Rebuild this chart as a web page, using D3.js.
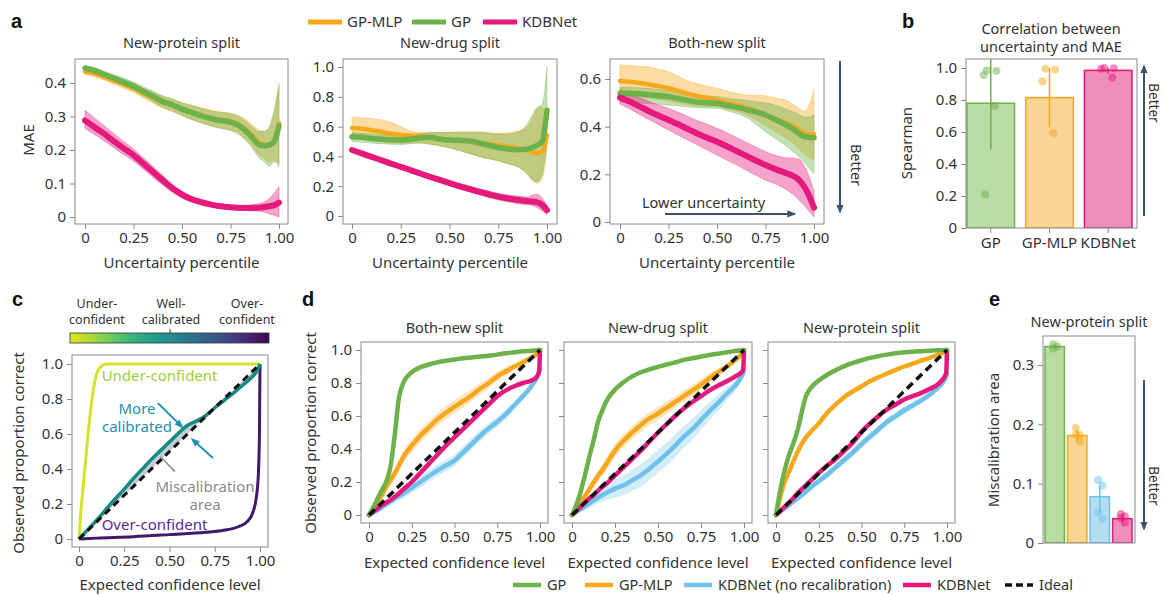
<!DOCTYPE html>
<html>
<head>
<meta charset="utf-8">
<script src="https://cdn.jsdelivr.net/npm/d3@7"></script>
<style>
  body { margin: 0; background: #fff; }
</style>
</head>
<body>
<script>

// ---------- data ----------

// panel a: MAE vs uncertainty percentile
const pctA = [0,0.05,0.1,0.15,0.2,0.25,0.3,0.35,0.4,0.45,0.5,0.55,0.6,0.65,0.7,0.75,0.8,0.85,0.9,0.925,0.95,0.975,1];

const protMLP   = [0.434,0.428,0.418,0.407,0.396,0.385,0.37,0.356,0.342,0.333,0.322,0.313,0.304,0.296,0.29,0.285,0.274,0.252,0.222,0.216,0.216,0.228,0.28];
const protMLPlo = [0.426,0.419,0.408,0.396,0.384,0.372,0.356,0.34,0.325,0.315,0.303,0.292,0.282,0.273,0.266,0.26,0.247,0.222,0.185,0.175,0.165,0.17,0.16];
const protMLPhi = [0.442,0.437,0.428,0.418,0.408,0.398,0.384,0.372,0.359,0.351,0.341,0.334,0.326,0.319,0.314,0.31,0.301,0.282,0.259,0.257,0.265,0.31,0.4];
const protGP    = [0.444,0.437,0.425,0.414,0.402,0.39,0.375,0.36,0.345,0.335,0.322,0.312,0.302,0.294,0.288,0.283,0.27,0.245,0.215,0.213,0.215,0.225,0.272];
const protGPlo  = [0.436,0.428,0.415,0.403,0.39,0.377,0.361,0.344,0.328,0.317,0.303,0.291,0.28,0.271,0.264,0.258,0.243,0.215,0.175,0.165,0.152,0.165,0.15];
const protGPhi  = [0.452,0.446,0.435,0.425,0.414,0.403,0.389,0.376,0.362,0.353,0.341,0.333,0.324,0.317,0.312,0.308,0.297,0.275,0.255,0.255,0.27,0.32,0.39];
const protKDB   = [0.288,0.268,0.248,0.226,0.205,0.185,0.16,0.135,0.11,0.086,0.067,0.053,0.044,0.037,0.032,0.029,0.027,0.027,0.028,0.03,0.032,0.035,0.043];
const protKDBlo = [0.265,0.246,0.227,0.206,0.186,0.167,0.143,0.119,0.096,0.074,0.057,0.045,0.037,0.031,0.026,0.023,0.02,0.019,0.017,0.014,0.01,0.005,0.0];
const protKDBhi = [0.318,0.295,0.272,0.248,0.225,0.203,0.177,0.151,0.124,0.098,0.077,0.062,0.052,0.044,0.039,0.036,0.035,0.036,0.04,0.045,0.055,0.07,0.09];

const drugMLP   = [0.59,0.585,0.575,0.565,0.552,0.543,0.54,0.538,0.53,0.52,0.51,0.505,0.5,0.49,0.483,0.476,0.465,0.455,0.44,0.43,0.42,0.43,0.54];
const drugMLPlo = [0.525,0.52,0.51,0.5,0.49,0.488,0.49,0.49,0.48,0.47,0.46,0.44,0.42,0.4,0.385,0.37,0.35,0.33,0.28,0.24,0.22,0.25,0.45];
const drugMLPhi = [0.665,0.66,0.655,0.645,0.63,0.6,0.57,0.56,0.56,0.56,0.562,0.565,0.565,0.565,0.56,0.555,0.56,0.57,0.6,0.65,0.72,0.73,0.6];
const drugGP    = [0.532,0.528,0.52,0.515,0.512,0.51,0.515,0.525,0.528,0.515,0.51,0.508,0.505,0.49,0.475,0.46,0.45,0.445,0.45,0.46,0.475,0.5,0.71];
const drugGPlo  = [0.5,0.495,0.49,0.485,0.482,0.48,0.485,0.49,0.485,0.47,0.455,0.44,0.42,0.4,0.385,0.37,0.35,0.33,0.28,0.24,0.23,0.28,0.5];
const drugGPhi  = [0.56,0.555,0.55,0.545,0.54,0.535,0.54,0.55,0.56,0.56,0.56,0.56,0.56,0.56,0.555,0.55,0.55,0.56,0.62,0.68,0.73,0.75,1.0];
const drugKDB   = [0.443,0.42,0.397,0.375,0.352,0.33,0.308,0.285,0.263,0.242,0.22,0.2,0.182,0.163,0.146,0.13,0.118,0.108,0.1,0.098,0.092,0.075,0.04];
const drugKDBlo = [0.435,0.412,0.388,0.365,0.341,0.318,0.295,0.271,0.248,0.226,0.203,0.182,0.163,0.143,0.125,0.108,0.095,0.083,0.075,0.07,0.055,0.035,0.01];
const drugKDBhi = [0.451,0.428,0.406,0.385,0.363,0.342,0.321,0.299,0.278,0.258,0.237,0.218,0.201,0.183,0.167,0.152,0.141,0.133,0.128,0.14,0.145,0.12,0.07];

const bothMLP   = [0.592,0.588,0.583,0.577,0.57,0.561,0.55,0.538,0.528,0.52,0.512,0.502,0.492,0.48,0.466,0.449,0.433,0.418,0.4,0.385,0.372,0.368,0.368];
const bothMLPlo = [0.53,0.528,0.524,0.52,0.514,0.508,0.5,0.492,0.487,0.485,0.483,0.475,0.465,0.452,0.43,0.405,0.38,0.355,0.325,0.305,0.285,0.27,0.26];
const bothMLPhi = [0.659,0.657,0.654,0.65,0.641,0.631,0.612,0.592,0.58,0.57,0.561,0.55,0.54,0.533,0.532,0.53,0.52,0.512,0.49,0.475,0.463,0.49,0.554];
const bothGP    = [0.54,0.54,0.538,0.534,0.53,0.526,0.518,0.51,0.503,0.5,0.498,0.49,0.482,0.472,0.462,0.449,0.43,0.41,0.386,0.37,0.358,0.355,0.354];
const bothGPlo  = [0.505,0.503,0.5,0.497,0.494,0.49,0.487,0.483,0.48,0.478,0.477,0.468,0.455,0.44,0.41,0.379,0.35,0.323,0.29,0.27,0.25,0.225,0.204];
const bothGPhi  = [0.565,0.565,0.563,0.56,0.556,0.552,0.545,0.537,0.53,0.528,0.527,0.52,0.515,0.51,0.505,0.5,0.49,0.475,0.46,0.45,0.44,0.44,0.45];
const bothKDB   = [0.522,0.505,0.485,0.465,0.446,0.428,0.41,0.39,0.37,0.353,0.337,0.318,0.298,0.278,0.258,0.239,0.222,0.207,0.19,0.175,0.148,0.11,0.06];
const bothKDBlo = [0.495,0.475,0.452,0.43,0.408,0.386,0.365,0.344,0.323,0.302,0.281,0.26,0.24,0.218,0.197,0.176,0.16,0.14,0.11,0.09,0.07,0.045,0.022];
const bothKDBhi = [0.555,0.54,0.522,0.506,0.49,0.477,0.46,0.443,0.425,0.41,0.393,0.375,0.355,0.335,0.315,0.295,0.28,0.27,0.268,0.262,0.235,0.19,0.128];

// panel b: Spearman correlation
const bCats  = ["GP", "GP-MLP", "KDBNet"];
const bMean  = [0.78, 0.815, 0.985];
const bLow   = [0.49, 0.63, 0.965];
const bHigh  = [1.07, 1.0, 1.0];
const bRuns  = [[0.985, 0.983, 0.956, 0.762, 0.21], [0.995, 0.99, 0.915, 0.594], [1.0, 0.998, 0.995, 0.94]];

// panel c: schematic calibration curves
const underX = [0,0.01,0.02,0.035,0.05,0.065,0.08,0.1,0.12,0.15,1];
const underY = [0,0.15,0.27,0.43,0.6,0.74,0.86,0.95,0.985,1,1];
const overX  = [0,0.1,0.3,0.5,0.7,0.8,0.88,0.93,0.96,0.98,0.99,0.997,1];
const overY  = [0,0.005,0.013,0.025,0.038,0.05,0.07,0.1,0.15,0.24,0.35,0.6,1];
const wellX  = [0,0.05,0.1,0.15,0.2,0.25,0.3,0.35,0.4,0.45,0.5,0.55,0.6,0.65,0.7,0.75,0.8,0.85,0.9,0.95,0.98,1];
const wellY  = [0,0.055,0.11,0.17,0.23,0.285,0.345,0.4,0.455,0.505,0.555,0.605,0.65,0.675,0.705,0.75,0.79,0.83,0.875,0.92,0.955,1];

// panel d: calibration curves
const confX = [0,0.025,0.05,0.075,0.1,0.125,0.15,0.175,0.2,0.25,0.3,0.35,0.4,0.45,0.5,0.55,0.6,0.65,0.7,0.75,0.8,0.85,0.9,0.95,0.98,0.995,1];

const bothDGP    = [0,0.045,0.1,0.15,0.2,0.29,0.48,0.71,0.8,0.865,0.895,0.912,0.925,0.935,0.943,0.95,0.955,0.96,0.965,0.972,0.98,0.986,0.992,0.996,0.999,1,1];
const bothDMLP   = [0,0.04,0.08,0.12,0.17,0.21,0.25,0.3,0.35,0.42,0.48,0.53,0.58,0.62,0.655,0.69,0.725,0.765,0.8,0.84,0.87,0.9,0.925,0.955,0.975,0.99,1];
const bothDMLPsd = [0,0.01,0.015,0.02,0.025,0.03,0.035,0.035,0.035,0.04,0.04,0.04,0.04,0.04,0.04,0.04,0.035,0.035,0.03,0.03,0.025,0.02,0.02,0.015,0.01,0.005,0];
const bothDKDB   = [0,0.02,0.04,0.06,0.075,0.09,0.11,0.13,0.155,0.2,0.255,0.31,0.365,0.42,0.47,0.52,0.57,0.62,0.67,0.72,0.755,0.78,0.8,0.815,0.835,0.87,1];
const bothDRaw   = [0,0.015,0.03,0.047,0.065,0.082,0.1,0.115,0.13,0.165,0.2,0.235,0.27,0.3,0.33,0.38,0.43,0.48,0.525,0.565,0.61,0.665,0.72,0.78,0.83,0.87,0.89];
const bothDRawsd = [0,0.005,0.01,0.015,0.02,0.02,0.025,0.025,0.03,0.03,0.035,0.035,0.035,0.035,0.035,0.035,0.035,0.035,0.03,0.03,0.03,0.025,0.025,0.02,0.015,0.01,0];

const drugDGP    = [0,0.06,0.14,0.24,0.35,0.45,0.56,0.63,0.69,0.76,0.805,0.84,0.865,0.883,0.898,0.912,0.925,0.94,0.95,0.96,0.97,0.978,0.986,0.994,0.998,1,1];
const drugDMLP   = [0,0.04,0.08,0.115,0.155,0.195,0.235,0.27,0.31,0.39,0.45,0.5,0.545,0.585,0.615,0.65,0.685,0.72,0.755,0.79,0.83,0.865,0.9,0.94,0.97,0.99,1];
const drugDMLPsd = [0,0.01,0.015,0.02,0.025,0.03,0.035,0.035,0.04,0.04,0.04,0.04,0.04,0.04,0.04,0.04,0.035,0.035,0.035,0.03,0.03,0.025,0.02,0.015,0.01,0.005,0];
const drugDKDB   = [0,0.025,0.05,0.075,0.1,0.12,0.145,0.17,0.19,0.24,0.29,0.34,0.39,0.445,0.5,0.55,0.6,0.645,0.685,0.72,0.755,0.785,0.81,0.84,0.86,0.88,1];
const drugDRaw   = [0,0.018,0.035,0.052,0.07,0.087,0.104,0.12,0.135,0.16,0.18,0.21,0.24,0.28,0.325,0.37,0.42,0.475,0.52,0.575,0.63,0.68,0.735,0.785,0.83,0.86,0.88];
const drugDRawsd = [0,0.01,0.015,0.02,0.025,0.03,0.035,0.04,0.045,0.055,0.06,0.065,0.07,0.07,0.07,0.07,0.07,0.065,0.065,0.06,0.055,0.05,0.04,0.03,0.02,0.01,0];

const protDGP    = [0,0.15,0.27,0.36,0.43,0.51,0.62,0.72,0.765,0.815,0.85,0.878,0.902,0.922,0.938,0.952,0.963,0.972,0.98,0.986,0.99,0.993,0.996,0.998,0.999,1,1];
const protDMLP   = [0,0.11,0.2,0.26,0.32,0.38,0.43,0.47,0.5,0.555,0.62,0.67,0.715,0.75,0.78,0.81,0.835,0.858,0.88,0.9,0.918,0.935,0.953,0.972,0.986,0.995,1];
const protDMLPsd = [0,0.005,0.01,0.01,0.012,0.012,0.012,0.012,0.012,0.012,0.012,0.012,0.01,0.01,0.01,0.01,0.01,0.01,0.01,0.008,0.008,0.006,0.005,0.004,0.003,0.002,0];
const protDKDB   = [0,0.025,0.05,0.075,0.1,0.13,0.155,0.18,0.205,0.255,0.3,0.34,0.39,0.44,0.505,0.555,0.6,0.64,0.67,0.7,0.72,0.74,0.765,0.795,0.83,0.86,1];
const protDRaw   = [0,0.02,0.04,0.06,0.08,0.1,0.12,0.14,0.165,0.205,0.245,0.29,0.335,0.38,0.43,0.475,0.52,0.565,0.6,0.635,0.665,0.695,0.73,0.775,0.81,0.84,0.86];
const protDRawsd = [0,0.005,0.008,0.01,0.012,0.015,0.015,0.018,0.02,0.02,0.022,0.022,0.025,0.025,0.025,0.025,0.025,0.025,0.025,0.025,0.022,0.02,0.02,0.015,0.012,0.008,0];

// panel e: miscalibration area
const eCats = ["GP", "GP-MLP", "KDBNet (no recalibration)", "KDBNet"];
const eMean = [0.331, 0.181, 0.078, 0.041];
const eLow  = [0.328, 0.171, 0.05, 0.035];
const eHigh = [0.334, 0.191, 0.097, 0.047];
const eRuns = [[0.335, 0.331, 0.328], [0.194, 0.182, 0.182, 0.171], [0.106, 0.097, 0.052, 0.041], [0.049, 0.045, 0.042, 0.034]];

const aTicksX = [0, 0.25, 0.5, 0.75, 1];
const topLegend = ["GP-MLP", "GP", "KDBNet"];
const bottomLegend = ["GP", "GP-MLP", "KDBNet (no recalibration)", "KDBNet", "Ideal"];

// ---------- style ----------
const col = { "GP": "#6cb14a", "GP-MLP": "#f5a81c", "KDBNet": "#e5197b", "KDBNet (no recalibration)": "#6ec1e8" };
const fillCol = { "GP": "#b8dca4", "GP-MLP": "#f8d594", "KDBNet": "#ef8dbb", "KDBNet (no recalibration)": "#b3def2" };
const ink = "#333", frameCol = "#8a8a8a", arrowCol = "#3e536d";

const svg = d3.select("body").append("svg")
    .attr("width", 1165).attr("height", 595)
    .style("font-family", "'Noto Sans', sans-serif");
svg.append("rect").attr("width", 1165).attr("height", 595).attr("fill", "#fff");

const defs = svg.append("defs");
function marker(id, c) {
  defs.append("marker").attr("id", id).attr("viewBox", "0 0 10 10")
      .attr("refX", 8).attr("refY", 5)
      .attr("markerWidth", 9).attr("markerHeight", 9)
      .attr("markerUnits", "userSpaceOnUse").attr("orient", "auto")
    .append("path").attr("d", "M0,1 L10,5 L0,9 z").attr("fill", c);
}
marker("headDark", arrowCol);
marker("headTeal", "#1f8fae");

let clipN = 0;
function clipFor(fr) {
  const id = "clip" + (clipN++);
  defs.append("clipPath").attr("id", id).append("rect")
      .attr("x", fr[0]).attr("y", fr[1]).attr("width", fr[2] - fr[0]).attr("height", fr[3] - fr[1]);
  return "url(#" + id + ")";
}

function txt(x, y, s, o = {}) {
  const t = svg.append("text").attr("x", x).attr("y", y).text(s)
      .attr("fill", o.fill || ink).attr("font-size", o.size || 14.5)
      .attr("text-anchor", o.anchor || "start");
  if (o.weight) t.attr("font-weight", o.weight);
  if (o.family) t.attr("font-family", o.family);
  if (o.rotate) t.attr("transform", `rotate(${o.rotate},${x},${y})`);
  return t;
}

function panelLabel(x, y, s) {
  txt(x, y, s, { size: 20, weight: "bold", family: "'Liberation Sans', Arial, sans-serif", fill: "#111" });
}

function tickFmt(dec) { return d => d === 0 ? "0" : d.toFixed(dec); }

function styleAxis(a) {
  a.attr("font-family", null).attr("font-size", null);
  a.select(".domain").remove();
  a.selectAll("line").attr("stroke", frameCol);
  a.selectAll("text").attr("fill", ink).attr("font-size", 15);
}

function frame(fr, x, y, xTicks, yTicks, xDec, yDec, yLabels = true) {
  svg.append("rect").attr("x", fr[0]).attr("y", fr[1])
      .attr("width", fr[2] - fr[0]).attr("height", fr[3] - fr[1])
      .attr("fill", "none").attr("stroke", frameCol).attr("stroke-width", 1);
  if (x) {
    const xa = svg.append("g").attr("transform", `translate(0,${fr[3]})`)
        .call(d3.axisBottom(x).tickValues(xTicks).tickSize(5).tickPadding(3).tickFormat(tickFmt(xDec)));
    styleAxis(xa);
  }
  const ya = svg.append("g").attr("transform", `translate(${fr[0]},0)`)
      .call(d3.axisLeft(y).tickValues(yTicks).tickSize(5).tickPadding(4)
        .tickFormat(yLabels ? tickFmt(yDec) : () => ""));
  styleAxis(ya);
}

// ---------- panel a ----------
const aPanels = [
  { title: "New-protein split", fr: [75, 59, 288, 224], xr: [85, 279], yd: [0, 0.4], yr: [217, 83], yt: [0, 0.1, 0.2, 0.3, 0.4],
    s: { "GP-MLP": [protMLP, protMLPlo, protMLPhi], "GP": [protGP, protGPlo, protGPhi], "KDBNet": [protKDB, protKDBlo, protKDBhi] } },
  { title: "New-drug split", fr: [343, 59, 557, 224], xr: [352, 547], yd: [0, 1], yr: [216, 67], yt: [0, 0.2, 0.4, 0.6, 0.8, 1],
    s: { "GP-MLP": [drugMLP, drugMLPlo, drugMLPhi], "GP": [drugGP, drugGPlo, drugGPhi], "KDBNet": [drugKDB, drugKDBlo, drugKDBhi] } },
  { title: "Both-new split", fr: [610, 59, 824, 224], xr: [620, 814], yd: [0, 0.6], yr: [222, 79], yt: [0, 0.2, 0.4, 0.6],
    s: { "GP-MLP": [bothMLP, bothMLPlo, bothMLPhi], "GP": [bothGP, bothGPlo, bothGPhi], "KDBNet": [bothKDB, bothKDBlo, bothKDBhi] } }
];
const aOrder = ["GP-MLP", "GP", "KDBNet"];
const aWidth = { "GP-MLP": 4.5, "GP": 5.5, "KDBNet": 6 };

aPanels.forEach((p, pi) => {
  const x = d3.scaleLinear().domain([0, 1]).range(p.xr);
  const y = d3.scaleLinear().domain(p.yd).range(p.yr);
  const g = svg.append("g").attr("clip-path", clipFor(p.fr));
  const area = d3.area().x(d => x(d[0])).y0(d => y(d[1])).y1(d => y(d[2])).curve(d3.curveMonotoneX);
  const line = d3.line().x(d => x(d[0])).y(d => y(d[1])).curve(d3.curveMonotoneX);
  aOrder.forEach(m => {
    const [mean, lo, hi] = p.s[m];
    g.append("path").datum(pctA.map((v, i) => [v, lo[i], hi[i]]))
        .attr("d", area).attr("fill", col[m]).attr("fill-opacity", 0.4)
        .attr("stroke", col[m]).attr("stroke-opacity", 0.45).attr("stroke-width", 0.8);
  });
  aOrder.forEach(m => {
    const mean = p.s[m][0];
    g.append("path").datum(pctA.map((v, i) => [v, mean[i]]))
        .attr("d", line).attr("fill", "none").attr("stroke", col[m])
        .attr("stroke-width", aWidth[m]).attr("stroke-linejoin", "round").attr("stroke-linecap", "round");
  });
  frame(p.fr, x, y, aTicksX, p.yt, 2, 1);
  txt((p.fr[0] + p.fr[2]) / 2, 48, p.title, { anchor: "middle" });
  txt((p.fr[0] + p.fr[2]) / 2, 268, "Uncertainty percentile", { anchor: "middle", size: 15 });
  if (pi === 0) txt(34, 140, "MAE", { anchor: "middle", rotate: -90, size: 15 });
  if (pi === 2) {
    txt(x(0.113), y(0.058), "Lower uncertainty", { size: 14.5 });
    svg.append("line").attr("x1", x(0.232)).attr("x2", x(0.9)).attr("y1", y(0.034)).attr("y2", y(0.034))
        .attr("stroke", arrowCol).attr("stroke-width", 2).attr("marker-end", "url(#headDark)");
  }
});

// "Better" arrow for a
svg.append("line").attr("x1", 840).attr("x2", 840).attr("y1", 61).attr("y2", 212)
    .attr("stroke", arrowCol).attr("stroke-width", 2).attr("marker-end", "url(#headDark)");
txt(851, 165, "Better", { anchor: "middle", rotate: 90 });

// top legend
{
  const legX = [308, 412, 483];
  topLegend.forEach((m, i) => {
    svg.append("line").attr("x1", legX[i]).attr("x2", legX[i] + 34).attr("y1", 22).attr("y2", 22)
        .attr("stroke", col[m]).attr("stroke-width", 5);
    txt(legX[i] + 39, 27, m, { size: 15 });
  });
}
panelLabel(11, 28, "a");

// ---------- panel b ----------
{
  const fr = [966, 59, 1137, 228];
  const x = d3.scaleBand().domain(bCats).range([967, 1132]).paddingInner(0.19);
  const y = d3.scaleLinear().domain([0, 1]).range([228, 68]);
  const g = svg.append("g").attr("clip-path", clipFor(fr));
  bCats.forEach((c, i) => {
    g.append("rect").attr("x", x(c)).attr("y", y(bMean[i])).attr("width", x.bandwidth())
        .attr("height", y(0) - y(bMean[i])).attr("fill", fillCol[c]).attr("stroke", col[c]).attr("stroke-width", 1.5);
  });
  bCats.forEach((c, i) => {
    const cx = x(c) + x.bandwidth() / 2;
    g.append("line").attr("x1", cx).attr("x2", cx).attr("y1", y(bLow[i])).attr("y2", y(bHigh[i]))
        .attr("stroke", col[c]).attr("stroke-width", 1.5);
    g.selectAll(null).data(bRuns[i]).enter().append("circle")
        .attr("cx", (d, j) => cx + (j % 2 ? 4 : -4) * (1 + (j % 3) * 0.4))
        .attr("cy", d => y(d)).attr("r", 4)
        .attr("fill", col[c]).attr("fill-opacity", 0.5);
  });
  frame(fr, null, y, null, [0, 0.2, 0.4, 0.6, 0.8, 1], 0, 1);
  const xa = svg.append("g").attr("transform", `translate(0,${fr[3]})`)
      .call(d3.axisBottom(x).tickSize(5).tickPadding(4));
  styleAxis(xa);
  txt(1051, 34, "Correlation between", { anchor: "middle" });
  txt(1051, 52, "uncertainty and MAE", { anchor: "middle" });
  txt(912, 143, "Spearman", { anchor: "middle", rotate: -90, size: 15 });
  svg.append("line").attr("x1", 1144).attr("x2", 1144).attr("y1", 216).attr("y2", 66)
      .attr("stroke", arrowCol).attr("stroke-width", 2).attr("marker-end", "url(#headDark)");
  txt(1149, 103, "Better", { anchor: "middle", rotate: 90, size: 13.5 });
  panelLabel(902, 28, "b");
}

// ---------- panel c ----------
{
  const fr = [72, 355, 268, 547];
  const x = d3.scaleLinear().domain([0, 1]).range([79, 260]);
  const y = d3.scaleLinear().domain([0, 1]).range([539, 364]);
  const line = d3.line().x(d => x(d[0])).y(d => y(d[1])).curve(d3.curveMonotoneX);

  // colour bar
  const grad = defs.append("linearGradient").attr("id", "calGrad");
  d3.range(0, 1.001, 0.1).forEach(t => grad.append("stop")
      .attr("offset", t).attr("stop-color", d3.interpolateViridis(0.97 - t * 0.97)));
  svg.append("rect").attr("x", 70).attr("y", 333).attr("width", 199).attr("height", 10)
      .attr("fill", "url(#calGrad)").attr("stroke", "#333").attr("stroke-width", 0.8);
  svg.append("line").attr("x1", 170).attr("x2", 170).attr("y1", 329).attr("y2", 333).attr("stroke", "#333");
  [["Under-", "confident", 97], ["Well-", "calibrated", 171], ["Over-", "confident", 247]].forEach(l => {
    txt(l[2], 308, l[0], { anchor: "middle", size: 12.5 });
    txt(l[2], 324, l[1], { anchor: "middle", size: 12.5 });
  });

  const g = svg.append("g").attr("clip-path", clipFor(fr));
  const well = wellX.map((v, i) => [v, wellY[i]]);
  g.append("path").datum(well)
      .attr("d", d3.area().x(d => x(d[0])).y0(d => y(d[0])).y1(d => y(d[1])).curve(d3.curveMonotoneX))
      .attr("fill", "#c5ced6");
  g.append("path").datum(underX.map((v, i) => [v, underY[i]])).attr("d", line)
      .attr("fill", "none").attr("stroke", "#d6e227").attr("stroke-width", 3);
  g.append("path").datum(overX.map((v, i) => [v, overY[i]])).attr("d", line)
      .attr("fill", "none").attr("stroke", "#40196a").attr("stroke-width", 3);
  g.append("path").datum(well).attr("d", line)
      .attr("fill", "none").attr("stroke", "#168a83").attr("stroke-width", 3.5);
  g.append("line").attr("x1", x(0)).attr("y1", y(0)).attr("x2", x(1)).attr("y2", y(1))
      .attr("stroke", "#111").attr("stroke-width", 3).attr("stroke-dasharray", "7,5");

  frame(fr, x, y, aTicksX, [0, 0.2, 0.4, 0.6, 0.8, 1], 2, 1);

  txt(x(0.125), y(0.905), "Under-confident", { fill: "#9fcd3b", size: 15 });
  txt(x(0.125), y(0.05), "Over-confident", { fill: "#5b2c8f", size: 15 });
  txt(137, 414, "More", { anchor: "middle", fill: "#1f8fae", size: 15 });
  txt(137, 432, "calibrated", { anchor: "middle", fill: "#1f8fae", size: 15 });
  svg.append("line").attr("x1", x(0.436)).attr("y1", y(0.777)).attr("x2", x(0.57)).attr("y2", y(0.64))
      .attr("stroke", "#1f8fae").attr("stroke-width", 1.8).attr("marker-end", "url(#headTeal)");
  svg.append("line").attr("x1", x(0.74)).attr("y1", y(0.463)).attr("x2", x(0.625)).attr("y2", y(0.57))
      .attr("stroke", "#1f8fae").attr("stroke-width", 1.8).attr("marker-end", "url(#headTeal)");
  svg.append("line").attr("x1", x(0.45)).attr("y1", y(0.47)).attr("x2", x(0.53)).attr("y2", y(0.385))
      .attr("stroke", "#8a8a8a").attr("stroke-width", 1.5);
  txt(205, 492, "Miscalibration", { anchor: "middle", fill: "#8a8a8a", size: 15 });
  txt(205, 510, "area", { anchor: "middle", fill: "#8a8a8a", size: 15 });

  txt(170, 590, "Expected confidence level", { anchor: "middle", size: 15 });
  txt(24, 453, "Observed proportion correct", { anchor: "middle", rotate: -90, size: 15 });
  panelLabel(12, 306, "c");
}

// ---------- panel d ----------
const dPanels = [
  { title: "Both-new split", fr: [361, 342, 548, 523], gp: bothDGP, mlp: bothDMLP, mlpSd: bothDMLPsd, kdb: bothDKDB, raw: bothDRaw, rawSd: bothDRawsd },
  { title: "New-drug split", fr: [564, 342, 752, 523], gp: drugDGP, mlp: drugDMLP, mlpSd: drugDMLPsd, kdb: drugDKDB, raw: drugDRaw, rawSd: drugDRawsd },
  { title: "New-protein split", fr: [768, 342, 955, 523], gp: protDGP, mlp: protDMLP, mlpSd: protDMLPsd, kdb: protDKDB, raw: protDRaw, rawSd: protDRawsd }
];
dPanels.forEach((p, pi) => {
  const x = d3.scaleLinear().domain([0, 1]).range([p.fr[0] + 8, p.fr[2] - 8]);
  const y = d3.scaleLinear().domain([0, 1]).range([515, 350]);
  const g = svg.append("g").attr("clip-path", clipFor(p.fr));
  const area = d3.area().x(d => x(d[0])).y0(d => y(d[1] - d[2])).y1(d => y(d[1] + d[2])).curve(d3.curveMonotoneX);
  const line = d3.line().x(d => x(d[0])).y(d => y(d[1])).curve(d3.curveMonotoneX);
  const band = (v, sd, c) => g.append("path").datum(confX.map((cx, i) => [cx, v[i], sd[i]]))
      .attr("d", area).attr("fill", c).attr("fill-opacity", 0.3);
  const curve = (v, c) => g.append("path").datum(confX.map((cx, i) => [cx, v[i]]))
      .attr("d", line).attr("fill", "none").attr("stroke", c).attr("stroke-width", 4.5)
      .attr("stroke-linejoin", "round").attr("stroke-linecap", "round");
  band(p.raw, p.rawSd, col["KDBNet (no recalibration)"]);
  band(p.mlp, p.mlpSd, col["GP-MLP"]);
  curve(p.raw, col["KDBNet (no recalibration)"]);
  curve(p.mlp, col["GP-MLP"]);
  curve(p.kdb, col["KDBNet"]);
  curve(p.gp, col["GP"]);
  g.append("line").attr("x1", x(0)).attr("y1", y(0)).attr("x2", x(1)).attr("y2", y(1))
      .attr("stroke", "#111").attr("stroke-width", 3.5).attr("stroke-dasharray", "8,5");
  frame(p.fr, x, y, aTicksX, [0, 0.2, 0.4, 0.6, 0.8, 1], 2, 1, pi === 0);
  txt((p.fr[0] + p.fr[2]) / 2, 333, p.title, { anchor: "middle" });
  txt((p.fr[0] + p.fr[2]) / 2, 568, "Expected confidence level", { anchor: "middle", size: 15 });
});
txt(316, 433, "Observed proportion correct", { anchor: "middle", rotate: -90, size: 15 });
panelLabel(302, 306, "d");

// bottom legend
{
  const legX = [513, 585, 684, 903, 1005];
  bottomLegend.forEach((m, i) => {
    const ln = svg.append("line").attr("x1", legX[i]).attr("x2", legX[i] + 28).attr("y1", 585).attr("y2", 585)
        .attr("stroke-width", 4.5);
    if (m === "Ideal") ln.attr("stroke", "#111").attr("stroke-dasharray", "7,4").attr("stroke-width", 3.5);
    else ln.attr("stroke", col[m]);
    txt(legX[i] + 34, 590, m, { size: 14.5 });
  });
}

// ---------- panel e ----------
{
  const fr = [1043, 336, 1135, 543];
  const x = d3.scaleBand().domain(eCats).range([1045, 1132]).paddingInner(0.14);
  const y = d3.scaleLinear().domain([0, 0.3]).range([543, 365]);
  const g = svg.append("g").attr("clip-path", clipFor(fr));
  eCats.forEach((c, i) => {
    g.append("rect").attr("x", x(c)).attr("y", y(eMean[i])).attr("width", x.bandwidth())
        .attr("height", y(0) - y(eMean[i])).attr("fill", fillCol[c]).attr("stroke", col[c]).attr("stroke-width", 1.5);
  });
  eCats.forEach((c, i) => {
    const cx = x(c) + x.bandwidth() / 2;
    g.append("line").attr("x1", cx).attr("x2", cx).attr("y1", y(eLow[i])).attr("y2", y(eHigh[i]))
        .attr("stroke", col[c]).attr("stroke-width", 1.5);
    g.selectAll(null).data(eRuns[i]).enter().append("circle")
        .attr("cx", (d, j) => cx + (j % 2 ? 2.5 : -1.5))
        .attr("cy", d => y(d)).attr("r", 4)
        .attr("fill", col[c]).attr("fill-opacity", 0.5);
  });
  frame(fr, null, y, null, [0, 0.1, 0.2, 0.3], 0, 1);
  txt(1089, 327, "New-protein split", { anchor: "middle" });
  txt(999, 440, "Miscalibration area", { anchor: "middle", rotate: -90, size: 15 });
  svg.append("line").attr("x1", 1144).attr("x2", 1144).attr("y1", 380).attr("y2", 529)
      .attr("stroke", arrowCol).attr("stroke-width", 2).attr("marker-end", "url(#headDark)");
  txt(1149, 486, "Better", { anchor: "middle", rotate: 90, size: 13.5 });
  panelLabel(989, 306, "e");
}
</script>
</body>
</html>
